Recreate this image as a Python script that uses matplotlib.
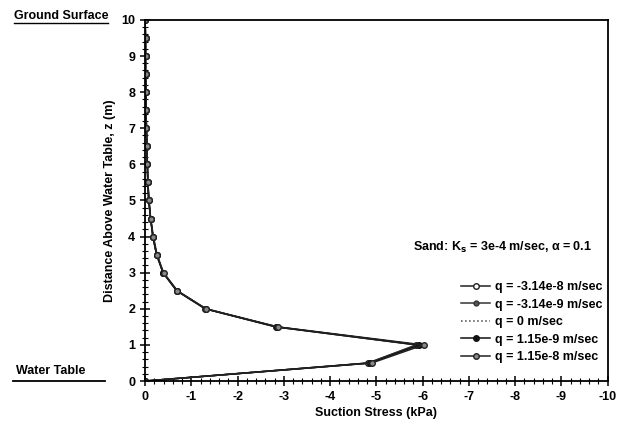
import matplotlib
matplotlib.use("Agg")
import matplotlib.pyplot as plt
from matplotlib.ticker import MultipleLocator
from matplotlib.lines import Line2D

plt.rcParams['font.family'] = ['Liberation Sans', 'DejaVu Sans']

z = [0, 0.5, 1, 1.5, 2, 2.5, 3, 3.5, 4, 4.5, 5, 5.5, 6, 6.5, 7, 7.5, 8, 8.5, 9, 9.5, 10]

# suction stress (kPa) for each flux
s1 = [0, -4.82, -5.86, -2.82, -1.30, -0.68, -0.39, -0.25, -0.17, -0.12, -0.08, -0.06, -0.05, -0.04, -0.03, -0.02, -0.02, -0.01, -0.01, -0.01, 0]
s2 = [0, -4.84, -5.89, -2.83, -1.30, -0.69, -0.39, -0.25, -0.17, -0.12, -0.08, -0.06, -0.05, -0.04, -0.03, -0.02, -0.02, -0.01, -0.01, -0.01, 0]
s3 = [0, -4.86, -5.91, -2.84, -1.31, -0.69, -0.39, -0.25, -0.17, -0.12, -0.08, -0.06, -0.05, -0.04, -0.03, -0.02, -0.02, -0.01, -0.01, -0.01, 0]
s4 = [0, -4.87, -5.93, -2.85, -1.31, -0.69, -0.39, -0.25, -0.17, -0.12, -0.08, -0.06, -0.05, -0.04, -0.03, -0.02, -0.02, -0.01, -0.01, -0.01, 0]
s5 = [0, -4.90, -6.02, -2.87, -1.32, -0.70, -0.40, -0.26, -0.18, -0.12, -0.09, -0.06, -0.05, -0.04, -0.03, -0.02, -0.02, -0.01, -0.01, -0.01, 0]

labels = ['q = -3.14e-8 m/sec', 'q = -3.14e-9 m/sec', 'q = 0 m/sec',
          'q = 1.15e-9 m/sec', 'q = 1.15e-8 m/sec']

xticks = list(range(0, -11, -1))
xticklabels = ['0', '-1', '-2', '-3', '-4', '-5', '-6', '-7', '-8', '-9', '-10']
yticks = list(range(0, 11))

fs = 9

fig = plt.figure(figsize=(6.39, 4.33), dpi=100)
ax = fig.add_axes([0.227, 0.12, 0.724, 0.834])

ax.plot(s1, z, color='#222222', lw=1.1, marker='o', ms=4, mfc='white', mec='#222222', label=labels[0])
ax.plot(s2, z, color='#333333', lw=1.1, marker='o', ms=3.5, mfc='#555555', mec='#333333', label=labels[1])
ax.plot(s3, z, color='#444444', lw=1.1, ls=':', label=labels[2])
ax.plot(s4, z, color='#111111', lw=1.1, marker='o', ms=4, mfc='#111111', mec='#111111', label=labels[3])
ax.plot(s5, z, color='#222222', lw=1.1, marker='o', ms=4, mfc='#888888', mec='#222222', label=labels[4])

ax.set_xlim(0, -10)
ax.set_ylim(0, 10)
ax.set_xticks(xticks)
ax.set_xticklabels(xticklabels, fontweight='bold', fontsize=fs)
ax.set_yticks(yticks)
ax.set_yticklabels([str(v) for v in yticks], fontweight='bold', fontsize=fs)
ax.xaxis.set_minor_locator(MultipleLocator(0.2))
ax.yaxis.set_minor_locator(MultipleLocator(0.2))
ax.tick_params(which='major', direction='inout', length=7, width=1.1)
ax.tick_params(which='minor', direction='inout', length=4, width=0.8)
for sp in ax.spines.values():
    sp.set_linewidth(1.3)

ax.set_xlabel('Suction Stress (kPa)', fontweight='bold', fontsize=fs, labelpad=3)
ax.set_ylabel('Distance Above Water Table, z (m)', fontweight='bold', fontsize=fs)

ax.text(-9.67, 3.71, 'Sand: K$_\\mathbf{s}$ = 3e-4 m/sec, \u03b1 = 0.1',
        ha='right', va='center', fontsize=fs, fontweight='bold')

ax.legend(loc='lower right', bbox_to_anchor=(1.0, 0.035), borderaxespad=0, frameon=False,
          handlelength=2.3, handletextpad=0.4, labelspacing=0.45,
          prop={'weight': 'bold', 'size': fs})

fig.text(0.022, 0.956, 'Ground Surface', fontsize=fs, fontweight='bold', ha='left', va='baseline')
fig.add_artist(Line2D([0.022, 0.169], [0.948, 0.948], color='black', lw=1))
fig.text(0.025, 0.136, 'Water Table', fontsize=fs, fontweight='bold', ha='left', va='baseline')
fig.add_artist(Line2D([0.020, 0.164], [0.121, 0.121], color='black', lw=1.3))

fig.savefig('out.png', dpi=100)
